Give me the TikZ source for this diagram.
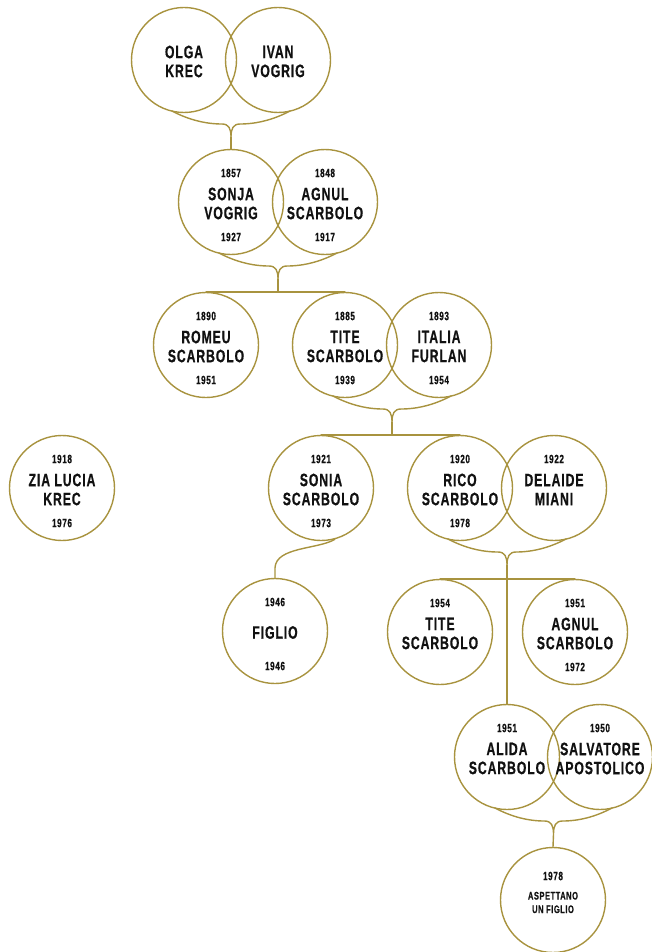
\documentclass[tikz,border=0pt]{standalone}
\usepackage{fontspec}
\usepackage{xcolor}
\usepackage{tikz}
\usetikzlibrary{calc}
\newfontfamily\namefont[FakeStretch=0.68,LetterSpace=5,FakeBold=0.6]{Liberation Sans Bold}
\definecolor{ochre}{HTML}{A8933F}
\definecolor{ink}{HTML}{111111}
\tikzset{
  person/.style={circle, draw=ochre, line width=1.4pt, minimum size=105pt, inner sep=0pt},
  who/.style={align=center, text=ink, inner sep=0pt, font=\namefont\fontsize{18}{19}\selectfont},
  yr/.style={text=ink, inner sep=0pt, font=\namefont\fontsize{12}{12}\selectfont},
  small/.style={text=ink, inner sep=0pt, align=center, font=\namefont\fontsize{11}{13.5}\selectfont},
  link/.style={draw=ochre, line width=1.4pt, line cap=round, line join=round},
}
\begin{document}
\begin{tikzpicture}[x=1pt,y=-1pt]
  \useasboundingbox (0,0) rectangle (652,952);
  % people: name/x/y/born/died/text
  \foreach \n/\x/\y/\b/\d/\t in {
    olga/184/60///{OLGA\\KREC},
    ivan/278/60///{IVAN\\VOGRIG},
    sonja/231/202/1857/1927/{SONJA\\VOGRIG},
    agnul/325/202/1848/1917/{AGNUL\\SCARBOLO},
    romeu/206/345/1890/1951/{ROMEU\\SCARBOLO},
    tite/345/345/1885/1939/{TITE\\SCARBOLO},
    italia/439/345/1893/1954/{ITALIA\\FURLAN},
    zia/62/488/1918/1976/{ZIA LUCIA\\KREC},
    sonia/321/488/1921/1973/{SONIA\\SCARBOLO},
    rico/460/488/1920/1978/{RICO\\SCARBOLO},
    delaide/554/488/1922//{DELAIDE\\MIANI},
    figlio/275/631/1946/1946/{FIGLIO},
    titejr/440/632/1954//{TITE\\SCARBOLO},
    agnuljr/575/632/1951/1972/{AGNUL\\SCARBOLO},
    alida/507/757/1951//{ALIDA\\SCARBOLO},
    salvatore/600/757/1950//{SALVATORE\\APOSTOLICO}}
  {
    \node[person] (\n) at (\x,\y) {};
    \node[who] at ($(\n)+(0,1.5)$) {\t};
    \node[yr] at ($(\n)+(0,-29)$) {\b};
    \node[yr] at ($(\n)+(0,35)$) {\d};
  }
  \node[person] (baby) at (553,900) {};
  \node[yr] at ($(baby)+(0,-24)$) {1978};
  \node[small] at ($(baby)+(0,2.5)$) {ASPETTANO\\UN FIGLIO};
  % couples
  \foreach \a/\b/\t in {olga/ivan/t1, sonja/agnul/t2, tite/italia/t3, rico/delaide/t4, alida/salvatore/t5} {
    \coordinate (m) at ($(\a)!0.5!(\b)$);
    \draw[link] ($(\a)+(-12,51)$) .. controls ($(\a)+(5,60)$) and ($(m)+(-25,64)$) .. ($(m)+(-9,64)$)
      .. controls ($(m)+(-2,64)$) and ($(m)+(0,69)$) .. ($(m)+(0,77)$) coordinate (\t)
      .. controls ($(m)+(0,69)$) and ($(m)+(2,64)$) .. ($(m)+(9,64)$)
      .. controls ($(m)+(25,64)$) and ($(\b)+(-5,60)$) .. ($(\b)+(12,51)$);
  }
  % children
  \draw[link] (t1) -- (sonja.north);
  \draw[link] (t2) -- (t2 |- romeu.north);
  \draw[link] (romeu.north) -- (tite.north);
  \draw[link] (t3) -- (t3 |- sonia.north);
  \draw[link] (sonia.north) -- (rico.north);
  \draw[link] (sonia.-75) .. controls +(-17,10) and ($(figlio.north)+(1,-31)$) .. ($(figlio.north)+(0,-10)$) -- (figlio.north);
  \draw[link] (t4) -- (alida.north);
  \draw[link] (titejr.north) -- (agnuljr.north);
  \draw[link] (t5) -- (baby.north);
\end{tikzpicture}
\end{document}
